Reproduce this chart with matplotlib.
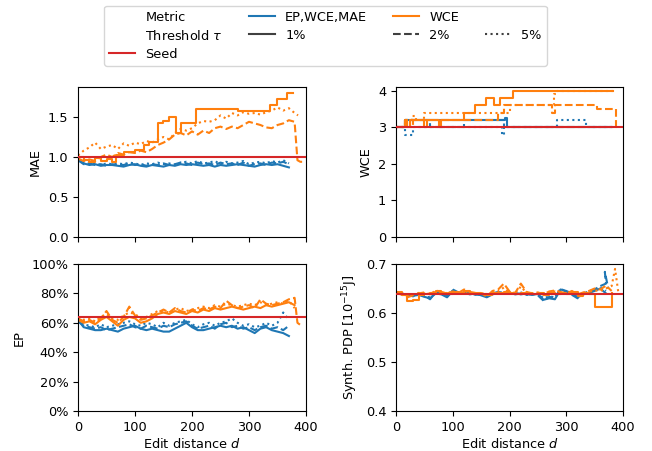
import numpy as np
import matplotlib
matplotlib.use("Agg")
import matplotlib.pyplot as plt
from matplotlib.lines import Line2D
from matplotlib.ticker import PercentFormatter

plt.rcParams["font.size"] = 9.3

# ---------------- data ----------------
# common edit-distance grids (every 10 edits)
d_blue = list(range(0, 380, 10))          # 0..370
d_or = list(range(0, 390, 10))            # 0..380

# MAE
mae_seed = 1.0
mae_blue_1 = [0.97, 0.92, 0.90, 0.91, 0.89, 0.90, 0.90, 0.89, 0.88, 0.90, 0.91, 0.89, 0.88, 0.90,
              0.89, 0.88, 0.90, 0.89, 0.91, 0.90, 0.91, 0.90, 0.89, 0.90, 0.88, 0.90, 0.89, 0.90,
              0.91, 0.90, 0.89, 0.88, 0.90, 0.91, 0.90, 0.91, 0.89, 0.87]
mae_blue_2 = [0.96, 0.91, 0.92, 0.90, 0.91, 0.89, 0.91, 0.90, 0.90, 0.92, 0.90, 0.91, 0.89, 0.91,
              0.90, 0.92, 0.90, 0.91, 0.93, 0.92, 0.90, 0.93, 0.91, 0.92, 0.90, 0.93, 0.91, 0.92,
              0.90, 0.93, 0.89, 0.91, 0.92, 0.90, 0.93, 0.92, 0.94, 0.91]
mae_blue_5 = [0.98, 0.93, 0.91, 0.92, 0.90, 0.92, 0.91, 0.92, 0.91, 0.93, 0.92, 0.90, 0.92, 0.91,
              0.93, 0.91, 0.92, 0.90, 0.93, 0.94, 0.92, 0.95, 0.92, 0.93, 0.95, 0.91, 0.94, 0.92,
              0.93, 0.95, 0.91, 0.93, 0.94, 0.92, 0.95, 0.93, 0.96, 0.92]
mae_or1_d = [0, 10, 20, 30, 40, 50, 60, 67, 80, 100, 115, 125, 140, 150, 160, 172, 180, 207, 280, 336, 350, 367, 377]
mae_or1_v = [1.00, 0.96, 0.94, 0.99, 0.95, 0.97, 0.94, 1.03, 1.06, 1.09, 1.15, 1.19, 1.42, 1.45, 1.50, 1.30, 1.42,
             1.60, 1.57, 1.65, 1.72, 1.80, 1.80]
mae_or2_d = d_or + [385, 390, 398]
mae_or2_v = [0.98, 0.95, 0.97, 0.95, 1.00, 1.03, 1.00, 1.05, 1.03, 1.06, 1.05, 1.08, 1.06, 1.10,
             1.15, 1.18, 1.22, 1.28, 1.30, 1.27, 1.32, 1.28, 1.33, 1.30, 1.36, 1.38, 1.35, 1.38,
             1.36, 1.40, 1.44, 1.42, 1.40, 1.37, 1.36, 1.40, 1.42, 1.46, 1.44, 0.96, 0.94, 0.94]
mae_or5_d = d_or + [386]
mae_or5_v = [1.02, 1.08, 1.12, 1.18, 1.10, 1.13, 1.15, 1.10, 1.17, 1.14, 1.18, 1.16, 1.20, 1.18,
             1.22, 1.25, 1.22, 1.30, 1.35, 1.33, 1.36, 1.42, 1.45, 1.44, 1.46, 1.52, 1.48, 1.55,
             1.52, 1.56, 1.54, 1.55, 1.53, 1.56, 1.58, 1.62, 1.58, 1.61, 1.55, 1.52]

# WCE (step-wise)
wce_seed = 3.0
wce_blue1_d = [0, 16, 192, 196, 380]
wce_blue1_v = [3.0, 3.2, 3.25, 3.0, 3.0]
wce_blue2_d = [0, 15, 60, 120, 190, 380]
wce_blue2_v = [3.0, 3.2, 3.0, 3.2, 3.0, 3.0]
wce_blue5_d = [0, 15, 30, 187, 190, 283, 335, 380]
wce_blue5_v = [3.0, 2.8, 3.0, 2.8, 3.0, 3.2, 3.0, 3.0]
wce_or1_d = [0, 16, 20, 25, 50, 55, 75, 80, 119, 140, 158, 172, 183, 207, 383]
wce_or1_v = [3.0, 3.2, 3.0, 3.2, 3.0, 3.2, 3.0, 3.2, 3.4, 3.6, 3.8, 3.6, 3.8, 4.0, 4.0]
wce_or2_d = [0, 15, 25, 30, 180, 190, 275, 280, 355, 387, 392]
wce_or2_v = [3.0, 3.2, 3.0, 3.2, 3.4, 3.6, 3.4, 3.6, 3.5, 3.0, 3.0]
wce_or5_d = [0, 15, 28, 35, 50, 200, 278, 283, 382]
wce_or5_v = [3.0, 3.2, 3.3, 3.2, 3.4, 3.6, 3.9, 4.0, 4.0]

# EP (fraction)
ep_seed = 0.64
ep_blue_1 = [0.62, 0.57, 0.56, 0.55, 0.55, 0.56, 0.55, 0.54, 0.56, 0.57, 0.58, 0.56, 0.55, 0.56,
             0.55, 0.54, 0.54, 0.56, 0.58, 0.60, 0.57, 0.55, 0.55, 0.56, 0.57, 0.58, 0.57, 0.58,
             0.56, 0.57, 0.55, 0.53, 0.56, 0.57, 0.55, 0.54, 0.53, 0.51]
ep_blue_2 = [0.61, 0.58, 0.57, 0.56, 0.57, 0.55, 0.56, 0.57, 0.58, 0.59, 0.57, 0.56, 0.58, 0.57,
             0.56, 0.58, 0.57, 0.59, 0.60, 0.61, 0.58, 0.56, 0.57, 0.58, 0.56, 0.59, 0.60, 0.57,
             0.58, 0.56, 0.57, 0.55, 0.57, 0.58, 0.56, 0.57, 0.55, 0.58]
ep_blue_5 = [0.63, 0.59, 0.58, 0.57, 0.59, 0.57, 0.58, 0.59, 0.60, 0.61, 0.59, 0.58, 0.60, 0.59,
             0.57, 0.60, 0.58, 0.60, 0.61, 0.62, 0.59, 0.57, 0.59, 0.60, 0.58, 0.60, 0.61, 0.63,
             0.60, 0.58, 0.59, 0.57, 0.58, 0.60, 0.58, 0.60, 0.67, 0.62]
ep_or_1 = [0.62, 0.60, 0.61, 0.59, 0.62, 0.64, 0.61, 0.58, 0.62, 0.64, 0.63, 0.60, 0.61, 0.63,
           0.66, 0.67, 0.66, 0.68, 0.67, 0.66, 0.68, 0.67, 0.69, 0.68, 0.70, 0.69, 0.70, 0.71,
           0.70, 0.69, 0.70, 0.71, 0.70, 0.72, 0.71, 0.72, 0.73, 0.74, 0.72]
ep_or2_d = d_or + [385, 392]
ep_or_2 = [0.63, 0.61, 0.62, 0.60, 0.63, 0.68, 0.62, 0.60, 0.64, 0.71, 0.65, 0.62, 0.63, 0.65,
           0.67, 0.69, 0.67, 0.70, 0.68, 0.67, 0.69, 0.68, 0.70, 0.69, 0.71, 0.70, 0.75, 0.72,
           0.70, 0.71, 0.72, 0.70, 0.76, 0.73, 0.72, 0.73, 0.74, 0.76, 0.77, 0.60, 0.58]
ep_or_5 = [0.64, 0.62, 0.63, 0.61, 0.64, 0.66, 0.63, 0.62, 0.65, 0.67, 0.66, 0.63, 0.64, 0.66,
           0.68, 0.68, 0.67, 0.69, 0.70, 0.68, 0.69, 0.70, 0.71, 0.70, 0.72, 0.71, 0.73, 0.72,
           0.71, 0.72, 0.73, 0.72, 0.74, 0.72, 0.73, 0.74, 0.73, 0.75, 0.70]

# Synth. PDP
pdp_seed = 0.638
pdp_blue_1 = [0.641, 0.638, 0.636, 0.635, 0.637, 0.633, 0.630, 0.640, 0.638, 0.632, 0.645, 0.640,
              0.642, 0.638, 0.640, 0.636, 0.632, 0.638, 0.641, 0.640, 0.642, 0.638, 0.640, 0.638,
              0.637, 0.639, 0.627, 0.630, 0.628, 0.648, 0.645, 0.640, 0.632, 0.638, 0.641, 0.645,
              0.650, 0.640]
pdp_blue_2_d = d_blue + [368, 374]
pdp_blue_2 = [0.639, 0.640, 0.637, 0.634, 0.639, 0.636, 0.628, 0.643, 0.640, 0.635, 0.648, 0.642,
              0.639, 0.641, 0.637, 0.638, 0.634, 0.640, 0.643, 0.641, 0.639, 0.641, 0.638, 0.640,
              0.639, 0.636, 0.625, 0.633, 0.631, 0.650, 0.643, 0.637, 0.630, 0.640, 0.644, 0.648,
              0.655, 0.660, 0.684, 0.650]
pdp_blue_5 = [0.640, 0.639, 0.638, 0.636, 0.640, 0.634, 0.632, 0.641, 0.639, 0.634, 0.646, 0.641,
              0.640, 0.640, 0.639, 0.637, 0.635, 0.641, 0.640, 0.642, 0.640, 0.639, 0.642, 0.637,
              0.638, 0.640, 0.630, 0.634, 0.632, 0.646, 0.642, 0.641, 0.635, 0.637, 0.642, 0.646,
              0.652, 0.645]
pdp_or_1 = [0.642, 0.636, 0.625, 0.626, 0.636, 0.638, 0.640, 0.645, 0.641, 0.639, 0.642, 0.640,
            0.644, 0.641, 0.640, 0.639, 0.637, 0.641, 0.640, 0.643, 0.640, 0.639, 0.641, 0.640,
            0.638, 0.640, 0.636, 0.641, 0.639, 0.640, 0.638, 0.642, 0.634, 0.640, 0.638, 0.612,
            0.612, 0.612, 0.640]
pdp_or_2 = [0.640, 0.638, 0.632, 0.636, 0.640, 0.642, 0.638, 0.646, 0.643, 0.640, 0.644, 0.641,
            0.648, 0.643, 0.641, 0.640, 0.634, 0.645, 0.648, 0.660, 0.644, 0.641, 0.660, 0.643,
            0.640, 0.642, 0.638, 0.644, 0.646, 0.643, 0.640, 0.645, 0.638, 0.642, 0.645, 0.650,
            0.648, 0.656, 0.645]
pdp_or_5_d = d_or + [386, 392]
pdp_or_5 = [0.641, 0.640, 0.636, 0.638, 0.641, 0.640, 0.639, 0.643, 0.641, 0.638, 0.642, 0.640,
            0.645, 0.641, 0.640, 0.641, 0.637, 0.642, 0.644, 0.652, 0.641, 0.640, 0.654, 0.641,
            0.639, 0.641, 0.637, 0.642, 0.644, 0.641, 0.639, 0.643, 0.637, 0.640, 0.643, 0.646,
            0.645, 0.650, 0.655, 0.690, 0.640]

# ---------------- plotting ----------------
BLUE = "#1f77b4"
ORANGE = "#ff7f0e"
RED = "#d62728"
LS = {"1": "-", "2": "--", "5": ":"}
LW = 1.5

fig = plt.figure(figsize=(6.52, 4.51), dpi=100)
W, H = 652, 451
def ax_at(x0, x1, y0, y1):
    return fig.add_axes([x0 / W, 1 - y1 / H, (x1 - x0) / W, (y1 - y0) / H])

ax_mae = ax_at(78, 306, 87, 237)
ax_wce = ax_at(396, 623, 87, 237)
ax_ep = ax_at(78, 306, 264, 411)
ax_pdp = ax_at(396, 623, 264, 411)

def pl(ax, x, y, color, key, step=False):
    ax.plot(x, y, color=color, ls=LS[key], lw=LW,
            drawstyle="steps-post" if step else "default")

# MAE
pl(ax_mae, d_blue, mae_blue_1, BLUE, "1")
pl(ax_mae, d_blue, mae_blue_2, BLUE, "2")
pl(ax_mae, d_blue, mae_blue_5, BLUE, "5")
pl(ax_mae, mae_or1_d, mae_or1_v, ORANGE, "1", step=True)
pl(ax_mae, mae_or2_d, mae_or2_v, ORANGE, "2")
pl(ax_mae, mae_or5_d, mae_or5_v, ORANGE, "5")
ax_mae.axhline(mae_seed, color=RED, lw=LW, zorder=5)
ax_mae.set_ylim(0, 1.875)
ax_mae.set_yticks([0, 0.5, 1.0, 1.5])
ax_mae.set_ylabel("MAE")

# WCE
pl(ax_wce, wce_blue1_d, wce_blue1_v, BLUE, "1", step=True)
pl(ax_wce, wce_blue2_d, wce_blue2_v, BLUE, "2", step=True)
pl(ax_wce, wce_blue5_d, wce_blue5_v, BLUE, "5", step=True)
pl(ax_wce, wce_or1_d, wce_or1_v, ORANGE, "1", step=True)
pl(ax_wce, wce_or2_d, wce_or2_v, ORANGE, "2", step=True)
pl(ax_wce, wce_or5_d, wce_or5_v, ORANGE, "5", step=True)
ax_wce.axhline(wce_seed, color=RED, lw=LW, zorder=5)
ax_wce.set_ylim(0, 4.1)
ax_wce.set_yticks([0, 1, 2, 3, 4])
ax_wce.set_ylabel("WCE")

# EP
pl(ax_ep, d_blue, ep_blue_1, BLUE, "1")
pl(ax_ep, d_blue, ep_blue_2, BLUE, "2")
pl(ax_ep, d_blue, ep_blue_5, BLUE, "5")
pl(ax_ep, d_or, ep_or_1, ORANGE, "1")
pl(ax_ep, ep_or2_d, ep_or_2, ORANGE, "2")
pl(ax_ep, d_or, ep_or_5, ORANGE, "5")
ax_ep.axhline(ep_seed, color=RED, lw=LW, zorder=5)
ax_ep.set_ylim(0, 1.0)
ax_ep.set_yticks([0, 0.2, 0.4, 0.6, 0.8, 1.0])
ax_ep.yaxis.set_major_formatter(PercentFormatter(1.0, decimals=0))
ax_ep.set_ylabel("EP")

# PDP
pl(ax_pdp, d_blue, pdp_blue_1, BLUE, "1")
pl(ax_pdp, pdp_blue_2_d, pdp_blue_2, BLUE, "2")
pl(ax_pdp, d_blue, pdp_blue_5, BLUE, "5")
pl(ax_pdp, d_or, pdp_or_1, ORANGE, "1", step=True)
pl(ax_pdp, d_or, pdp_or_2, ORANGE, "2")
pl(ax_pdp, pdp_or_5_d, pdp_or_5, ORANGE, "5")
ax_pdp.axhline(pdp_seed, color=RED, lw=LW, zorder=5)
ax_pdp.set_ylim(0.4, 0.7)
ax_pdp.set_yticks([0.4, 0.5, 0.6, 0.7])
ax_pdp.set_ylabel("Synth. PDP [$10^{-15}$J]")

for ax in (ax_mae, ax_wce, ax_ep, ax_pdp):
    ax.set_xlim(0, 400)
    ax.set_xticks([0, 100, 200, 300, 400])
for ax in (ax_mae, ax_wce):
    ax.set_xticklabels([])
for ax in (ax_ep, ax_pdp):
    ax.set_xlabel("Edit distance $d$", labelpad=2)

# legend
blank = Line2D([], [], color="none")
handles = [blank, blank, Line2D([], [], color=RED, lw=LW),
           Line2D([], [], color=BLUE, lw=LW), Line2D([], [], color="0.25", lw=LW, ls="-"), blank,
           Line2D([], [], color=ORANGE, lw=LW), Line2D([], [], color="0.25", lw=LW, ls="--"), blank,
           blank, Line2D([], [], color="0.25", lw=LW, ls=":"), blank]
labels = ["Metric", "Threshold $\\tau$", "Seed",
          "EP,WCE,MAE", "1%", "",
          "WCE", "2%", "",
          "", "5%", ""]
fig.legend(handles, labels, ncol=4, loc="upper center", bbox_to_anchor=(0.499, 1.002),
           handlelength=2.0, columnspacing=2.0, borderpad=0.4, labelspacing=0.38)

fig.savefig("out.png", dpi=100)
